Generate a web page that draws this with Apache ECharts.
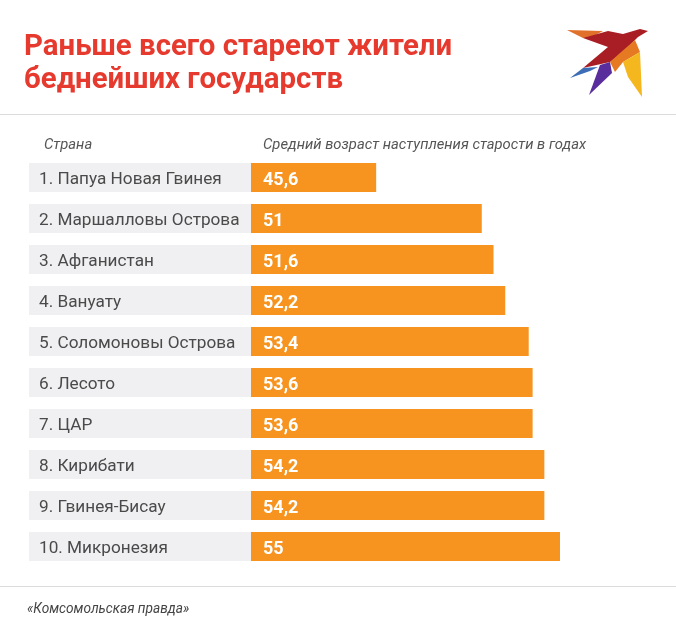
<!DOCTYPE html>
<html>
<head>
<meta charset="utf-8">
<style>html,body{margin:0;padding:0;background:#fff}#main{width:676px;height:640px}</style>
<script src="https://cdn.jsdelivr.net/npm/echarts@6/dist/echarts.min.js"></script>
</head>
<body>
<div id="main"></div>
<script>
var countries = ['1. Папуа Новая Гвинея', '2. Маршалловы Острова', '3. Афганистан', '4. Вануату',
    '5. Соломоновы Острова', '6. Лесото', '7. ЦАР', '8. Кирибати', '9. Гвинея-Бисау', '10. Микронезия'];
var ages = [45.6, 51, 51.6, 52.2, 53.4, 53.6, 53.6, 54.2, 54.2, 55];

var font = 'Roboto';
var chart = echarts.init(document.getElementById('main'));

// logo, flat polygons
function poly(points, color) {
    return { type: 'polygon', shape: { points: points }, style: { fill: color } };
}

chart.setOption({
    animation: false,
    backgroundColor: '#fff',
    title: [
        { text: 'Раньше всего стареют жители\nбеднейших государств', left: 19, top: 26,
          textStyle: { fontFamily: font, fontWeight: 'bold', fontSize: 29.4, lineHeight: 33, color: '#e73a2f' } },
        { text: 'Страна', left: 39, top: 133,
          textStyle: { fontFamily: font, fontStyle: 'italic', fontWeight: 'normal', fontSize: 14.8, color: '#555' } },
        { text: 'Средний возраст наступления старости в годах', left: 258, top: 133,
          textStyle: { fontFamily: font, fontStyle: 'italic', fontWeight: 'normal', fontSize: 14.8, color: '#555' } },
        { text: '«Комсомольская правда»', left: 22, top: 598,
          textStyle: { fontFamily: font, fontStyle: 'italic', fontWeight: 'normal', fontSize: 13.7, color: '#444' } }
    ],
    grid: { left: 251, top: 157, width: 309, height: 410 },
    xAxis: { type: 'value', min: 39.2, max: 55, show: false },
    yAxis: {
        type: 'category',
        inverse: true,
        data: countries,
        axisLine: { show: false },
        axisTick: { show: false },
        axisLabel: {
            margin: 222,
            align: 'left',
            formatter: '{t|{value}}',
            rich: {
                t: {
                    width: 212,
                    height: 24,
                    lineHeight: 24,
                    padding: [5, 0, 0, 10],
                    backgroundColor: '#f0f0f2',
                    fontFamily: font,
                    fontSize: 17.2,
                    color: '#4a4a4a'
                }
            }
        }
    },
    series: [{
        type: 'bar',
        data: ages,
        barWidth: 29,
        itemStyle: { color: '#f7941f' },
        label: {
            show: true,
            position: 'insideLeft',
            distance: 12,
            offset: [0, 3],
            fontFamily: font,
            fontWeight: 'bold',
            fontSize: 18,
            color: '#fff',
            formatter: function (p) { return String(p.value).replace('.', ','); }
        }
    }],
    graphic: [
        { type: 'rect', shape: { x: 0, y: 114, width: 676, height: 1 }, style: { fill: '#dcdcdc' } },
        { type: 'rect', shape: { x: 0, y: 586, width: 676, height: 1 }, style: { fill: '#dcdcdc' } },
        poly([[567,30],[603,31],[590,38],[583,38]], '#e0702a'),
        poly([[583,38],[608,31],[623,34],[640,29],[648,31],[638,37],[622,53],[610,62],[583,68],[608,47]], '#a81e24'),
        poly([[570,78],[583,68],[598,67],[590,71]], '#3d6db5'),
        poly([[589,95],[600,65],[610,62],[612,73]], '#5a2d9c'),
        poly([[610,62],[620,53],[635,40],[640,52],[623,62],[615,72]], '#e67a22'),
        poly([[623,62],[640,52],[642,97],[628,77]], '#f4b71e')
    ]
});
</script>
</body>
</html>
